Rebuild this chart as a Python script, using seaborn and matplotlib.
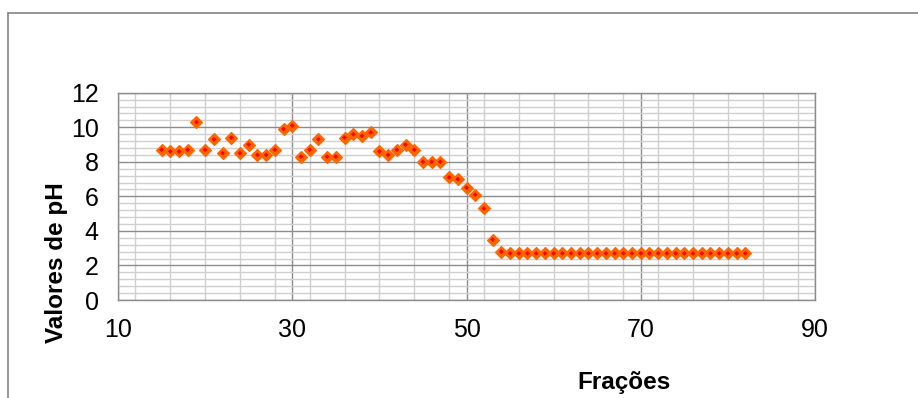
import matplotlib
matplotlib.use("Agg")
import matplotlib.pyplot as plt
import seaborn as sns
import pandas as pd
from matplotlib.ticker import MultipleLocator
from matplotlib.lines import Line2D

# Fraction numbers and the pH measured in each one
fractions = [15, 16, 17, 18, 19, 20, 21, 22, 23, 24, 25, 26, 27, 28, 29, 30,
             31, 32, 33, 34, 35, 36, 37, 38, 39, 40, 41, 42, 43, 44, 45, 46,
             47, 48, 49, 50, 51, 52, 53, 54, 55, 56, 57, 58, 59, 60, 61, 62,
             63, 64, 65, 66, 67, 68, 69, 70, 71, 72, 73, 74, 75, 76, 77, 78,
             79, 80, 81, 82]
ph_values = [8.7, 8.6, 8.6, 8.7, 10.3, 8.7, 9.3, 8.5, 9.4, 8.5, 9.0, 8.4,
             8.4, 8.7, 9.9, 10.1, 8.3, 8.7, 9.3, 8.3, 8.3, 9.4, 9.6, 9.5,
             9.7, 8.6, 8.4, 8.7, 9.0, 8.7, 8.0, 8.0, 8.0, 7.1, 7.0, 6.5,
             6.1, 5.3, 3.5, 2.8, 2.7, 2.7, 2.7, 2.7, 2.7, 2.7, 2.7, 2.7,
             2.7, 2.7, 2.7, 2.7, 2.7, 2.7, 2.7, 2.7, 2.7, 2.7, 2.7, 2.7,
             2.7, 2.7, 2.7, 2.7, 2.7, 2.7, 2.7, 2.7]

x_ticks = [10, 30, 50, 70, 90]
y_ticks = [0, 2, 4, 6, 8, 10, 12]

sns.set_theme(style="white")
plt.rcParams["font.family"] = ["Liberation Sans", "DejaVu Sans"]

W, H = 918, 398
fig = plt.figure(figsize=(W / 100, H / 100), dpi=100)
fig.patch.set_facecolor("white")

left, right, top, bottom = 118, 815, 92.7, 300
ax = fig.add_axes([left / W, 1 - bottom / H, (right - left) / W, (bottom - top) / H])
ax.set_facecolor("white")

df = pd.DataFrame({"Frações": fractions, "pH": ph_values})

# orange diamonds with a small red centre
sns.scatterplot(data=df, x="Frações", y="pH", marker="D", s=36,
                color="#FF6600", edgecolor="#FF6600", linewidth=1.0,
                ax=ax, zorder=3, legend=False)
sns.scatterplot(data=df, x="Frações", y="pH", marker="D", s=6,
                color="#FF0000", edgecolor="none", linewidth=0,
                ax=ax, zorder=4, legend=False)

ax.set_xlim(10, 90)
ax.set_ylim(0, 12)
ax.set_xticks(x_ticks)
ax.set_yticks(y_ticks)
ax.xaxis.set_minor_locator(MultipleLocator(4))
ax.yaxis.set_minor_locator(MultipleLocator(0.4))

ax.grid(which="minor", color="#cfcfcf", linewidth=1.0)
ax.grid(which="major", color="#8c8c8c", linewidth=1.0)
ax.set_axisbelow(True)

for sp in ax.spines.values():
    sp.set_color("#8c8c8c")
    sp.set_linewidth(1.0)

ax.tick_params(which="major", direction="out", length=5.8, width=1.0,
               color="#8c8c8c", labelsize=18, labelcolor="black")
ax.tick_params(axis="y", which="major", pad=8)
ax.tick_params(axis="x", which="major", pad=7)
ax.tick_params(which="minor", length=0)

ax.set_xlabel("")
ax.set_ylabel("")

fig.text(56 / W, 1 - 263 / H, "Valores de pH", rotation=90, ha="center",
         va="center", fontsize=17.5, fontweight="bold", color="black")
fig.text(624 / W, 1 - 383 / H, "Frações", ha="center", va="center",
         fontsize=17.5, fontweight="bold", color="black")

# outer chart frame (left and top edges)
fig.add_artist(Line2D([8 / W, 8 / W], [0, 1 - 13 / H], transform=fig.transFigure,
                      color="#8c8c8c", linewidth=1.3))
fig.add_artist(Line2D([8 / W, 1], [1 - 13 / H, 1 - 13 / H], transform=fig.transFigure,
                      color="#8c8c8c", linewidth=1.3))

fig.savefig("out.png", dpi=100, facecolor="white")
